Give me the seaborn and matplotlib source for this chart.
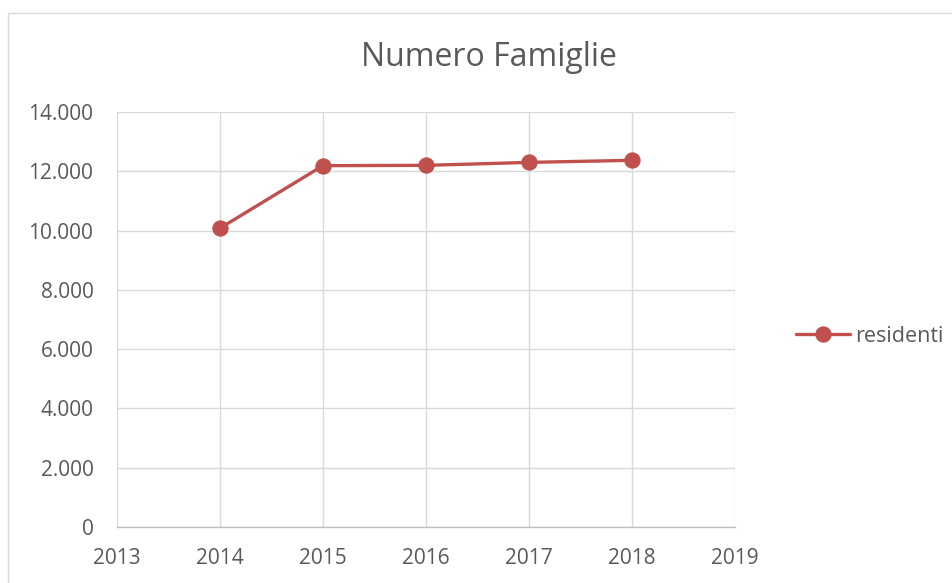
import matplotlib
matplotlib.use('Agg')
import pandas as pd
import seaborn as sns
import matplotlib.pyplot as plt
from matplotlib.patches import Rectangle

years = [2014, 2015, 2016, 2017, 2018]
residenti = [10080, 12190, 12200, 12300, 12370]
x_ticks = [2013, 2014, 2015, 2016, 2017, 2018, 2019]
y_ticks = [0, 2000, 4000, 6000, 8000, 10000, 12000, 14000]
y_labels = ['0', '2.000', '4.000', '6.000', '8.000', '10.000', '12.000', '14.000']

df = pd.DataFrame({'Anno': years, 'residenti': residenti})

sns.set_style('white')
plt.rcParams['font.family'] = ['Open Sans', 'DejaVu Sans']

fig = plt.figure(figsize=(9.53, 5.83), dpi=100)
ax = fig.add_axes([117 / 953, 1 - 527 / 583, 618 / 953, 415 / 583])

# chart border
fig.patches.append(Rectangle((8 / 953, -0.1), 1.2, (583 - 13) / 583 + 0.1,
                             transform=fig.transFigure, fill=False,
                             edgecolor='#d9d9d9', linewidth=1))

red = '#c0504d'
sns.lineplot(data=df, x='Anno', y='residenti', ax=ax, color=red, linewidth=2.4,
             marker='o', markersize=11, markeredgecolor=red, label='residenti')

ax.set_xlim(2013, 2019)
ax.set_ylim(0, 14000)
ax.set_xticks(x_ticks)
ax.set_xticklabels([str(t) for t in x_ticks])
ax.set_yticks(y_ticks)
ax.set_yticklabels(y_labels)
ax.grid(True, color='#d9d9d9', linewidth=1)
ax.set_axisbelow(True)
for s in ['top', 'right', 'left']:
    ax.spines[s].set_visible(False)
ax.spines['bottom'].set_color('#bfbfbf')
ax.spines['bottom'].set_linewidth(1)
ax.tick_params(axis='both', length=0, labelsize=15, colors='#595959')
ax.tick_params(axis='x', pad=15)
ax.tick_params(axis='y', pad=17)
ax.set_xlabel('')
ax.set_ylabel('')

fig.text(489 / 953, 1 - 58 / 583, 'Numero Famiglie', ha='center', va='center',
         fontsize=23, color='#595959')

ax.legend(loc='center left', bbox_to_anchor=(1.068, 0.46), frameon=False,
          fontsize=15.5, labelcolor='#595959', handlelength=2.5, handletextpad=0.25)

fig.savefig('out.png', dpi=100)
